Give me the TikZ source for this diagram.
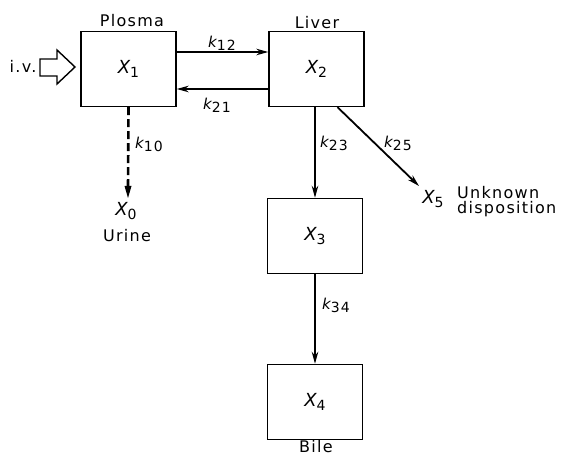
\documentclass[tikz,border=0pt]{standalone}
\usepackage{fontspec}
\setmainfont{DejaVu Sans}[LetterSpace=8]
\usetikzlibrary{arrows.meta}
% compartment amount X_i and rate constant k_ij
\newcommand\compx[1]{{\fontsize{18}{18}\selectfont\itshape X}\raisebox{-4.5pt}{\fontsize{14}{14}\selectfont #1}}
\newcommand\rate[1]{{\fontsize{15}{15}\selectfont\itshape k}\raisebox{-3pt}{\fontsize{14}{14}\selectfont #1}}
\tikzset{
  comp/.style={draw, line width=1.4pt, minimum width=95pt, minimum height=75pt, inner sep=0pt},
  flow/.style={line width=1.8pt, -{Stealth[length=12pt,width=6.5pt]}},
  lbl/.style={font=\fontsize{16}{18}\selectfont, inner sep=0pt},
}
\begin{document}
\begin{tikzpicture}[x=1pt,y=-1pt]
\useasboundingbox (0,0) rectangle (568,457);

% compartments
\node[comp] (X1) at (128.5,69) {\compx{1}};
\node[comp] (X2) at (316.5,69) {\compx{2}};
\node[comp] (X3) at (315,236) {\compx{3}};
\node[comp] (X4) at (315,402) {\compx{4}};

% compartment names
\node[lbl] (plasma) at (132,21) {Plosma};
\node[lbl] (liver) at (317,23) {Liver};
\node[lbl] (bile) at (316,447) {Bile};

% intravenous input
\node[lbl] (iv) at (23,66) {i.v.};
\draw[line width=1.4pt] (40,59) -- (57,59) -- (57,50) -- (75,67) -- (57,84) -- (57,76) -- (40,76) -- cycle;

% exchange between plasma and liver
\draw[flow] ([yshift=17pt]X1.east) -- ([yshift=17pt]X2.west);
\draw[flow] ([yshift=-20pt]X2.west) -- ([yshift=-20pt]X1.east);
\node[lbl] (k12) at (222,43) {\rate{12}};
\node[lbl] (k21) at (217,105) {\rate{21}};

% urinary elimination
\coordinate (u) at (128,198);
\draw[line width=2.6pt, dash pattern=on 8pt off 4pt] (X1.south) -- ([yshift=10pt]u);
\fill (u) -- ++(-3.5,-12) -- ++(7,0) -- cycle;
\node[lbl] (k10) at (149,144) {\rate{10}};
\node[lbl] (X0) at (126,211) {\compx{0}};
\node[lbl] (urine) at (127,236) {Urine};

% biliary route
\draw[flow] (X2.south -| X3.north) -- (X3.north);
\node[lbl] (k23) at (334,143) {\rate{23}};
\draw[flow] (X3.south) -- (X4.north);
\node[lbl] (k34) at (336,305) {\rate{34}};

% unknown disposition
\coordinate (t5) at (419,186);
\draw[flow] ([xshift=21pt]X2.south) -- (t5);
\node[lbl] (k25) at (398,143) {\rate{25}};
\node[lbl] (X5) at (433,199) {\compx{5}};
\node[lbl, align=left, anchor=west] (unk) at (457,202) {Unknown\\[-3pt]disposition};
\end{tikzpicture}
\end{document}
